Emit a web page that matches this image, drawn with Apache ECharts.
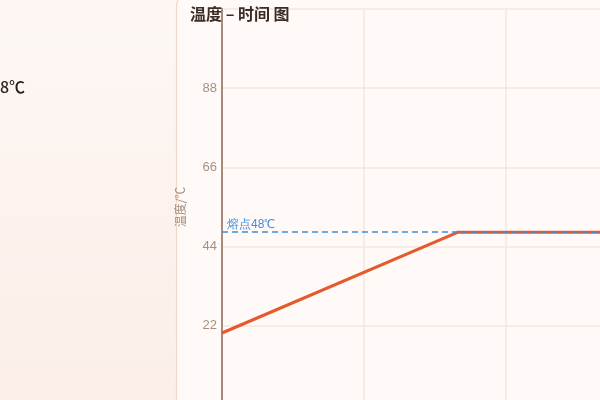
<!DOCTYPE html>
<html><head><meta charset="utf-8">
<script src="https://cdn.jsdelivr.net/npm/echarts@6/dist/echarts.min.js"></script>
<style>
html,body{margin:0;padding:0;width:600px;height:400px;overflow:hidden;
background:linear-gradient(180deg,#fdf7f4 0%,#fbefe8 100%);}
#c{position:absolute;left:0;top:0;width:940px;height:430px;}
</style></head>
<body><div id="c"></div>
<script>
const times = [0, 5, 10, 15];
const temps = [20, 48, 48, 48];
const meltPoint = 48;
const yTicks = [0, 22, 44, 66, 88, 110];
const titleText = '温度 – 时间 图';
const yName = '温度/℃';
const meltLabel = '熔点48℃';
const sideText = '熔点 48℃';

const chart = echarts.init(document.getElementById('c'), null, {renderer:'canvas'});
chart.setOption({
  backgroundColor: 'transparent',
  animation: false,
  graphic: [
    {type:'rect', z:-10, shape:{x:176.5, y:-6, width:900, height:500, r:12},
     style:{fill:'#fffaf7', stroke:'#f0d8c9', lineWidth:1.2}},
    {type:'text', x:25, y:87, style:{text:sideText, align:'right', verticalAlign:'middle',
     fill:'#2a211d', font:'500 16px "Noto Sans CJK SC", sans-serif'}}
  ],
  title: {text: titleText, left: 185, top: 1,
    textStyle:{fontSize:16, fontWeight:'bold', color:'#3a2d26', fontFamily:'"Noto Sans CJK SC", sans-serif'}},
  grid: {left:222, top:9, right:0.5, bottom:25, containLabel:false},
  xAxis: {type:'value', min:0, max:15, interval:3,
    axisLine:{show:false}, axisTick:{show:false},
    axisLabel:{color:'#a89080'},
    splitLine:{show:true, lineStyle:{color:'#f6e6dc', width:1.5}}},
  yAxis: {type:'value', min:yTicks[0], max:yTicks[yTicks.length-1], interval:22,
    name: yName, nameLocation:'middle', nameGap:36,
    nameTextStyle:{color:'#a89080', fontSize:12, fontFamily:'"Noto Sans CJK SC", sans-serif'},
    axisLine:{show:true, lineStyle:{color:'#a88a7a', width:2}},
    axisTick:{show:false},
    axisLabel:{color:'#a89080', fontSize:13, margin:5, showMaxLabel:false},
    splitLine:{show:true, lineStyle:{color:'#f6e6dc', width:1.5}}},
  series: [{
    type:'line', data: times.map((t,i)=>[t, temps[i]]),
    symbol:'none', lineStyle:{color:'#e45a2c', width:3}, itemStyle:{color:'#e45a2c'},
    markLine: {symbol:'none', silent:true,
      lineStyle:{color:'#3f8ddb', type:[6,4], width:1.5},
      label:{show:true, position:'insideStartTop', formatter: meltLabel, color:'#3f8ddb', fontSize:12, distance:[5,2]},
      data:[{yAxis: meltPoint}]}
  }]
});
</script></body></html>
